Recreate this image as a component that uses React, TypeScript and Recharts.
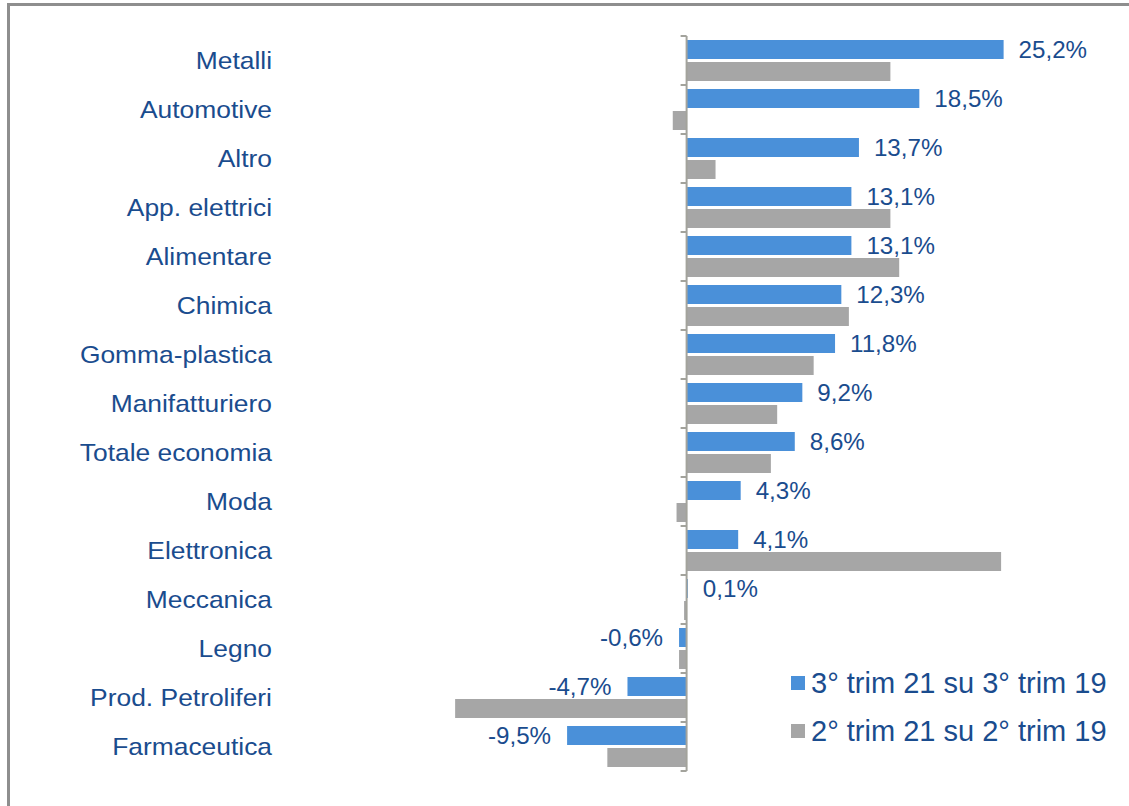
import { Bar, BarChart, LabelList, Legend, ReferenceLine, XAxis, YAxis } from 'recharts'

const categories = [
  'Metalli',
  'Automotive',
  'Altro',
  'App. elettrici',
  'Alimentare',
  'Chimica',
  'Gomma-plastica',
  'Manifatturiero',
  'Totale economia',
  'Moda',
  'Elettronica',
  'Meccanica',
  'Legno',
  'Prod. Petroliferi',
  'Farmaceutica'
]

const q3Values = [25.2, 18.5, 13.7, 13.1, 13.1, 12.3, 11.8, 9.2, 8.6, 4.3, 4.1, 0.1, -0.6, -4.7, -9.5]
const q2Values = [16.2, -1.1, 2.3, 16.2, 16.9, 12.9, 10.1, 7.2, 6.7, -0.8, 25.0, -0.2, -0.6, -18.4, -6.3]

const seriesNames = ['3° trim 21 su 3° trim 19', '2° trim 21 su 2° trim 19']

const data = categories.map((name, i) => ({
  name,
  q3: q3Values[i],
  q2: q2Values[i]
}))

const FONT = '"Liberation Sans", Arial, sans-serif'
const TEXT = '#1a4c8e'
const BLUE = '#4a90d9'
const GRAY = '#a6a6a6'
const AXIS = '#a3a39c'

const WIDTH = 1129
const HEIGHT = 806
const MARGIN = { top: 36, right: 65, bottom: 35, left: 0 }
const YAXIS_W = 435
const DOMAIN: [number, number] = [-20, 30]

// layout helpers for the excel style boundary ticks
const plotW = WIDTH - MARGIN.left - MARGIN.right - YAXIS_W
const zeroX = MARGIN.left + YAXIS_W + ((0 - DOMAIN[0]) / (DOMAIN[1] - DOMAIN[0])) * plotW
const band = (HEIGHT - MARGIN.top - MARGIN.bottom) / categories.length
const LABEL_X = 272

const fmt = (v: number) => v.toFixed(1).replace('.', ',') + '%'

const CategoryTick = (props: any) => {
  const { y, payload, index } = props
  return (
    <g>
      {/* the original text is a bit wider than Liberation Sans */}
      <text
        transform={`translate(${LABEL_X},${y}) scale(1.1,1)`}
        textAnchor="end"
        dominantBaseline="central"
        fill={TEXT}
        fontSize={24}
        fontFamily={FONT}
      >
        {payload.value}
      </text>
      <line x1={zeroX - 6} x2={zeroX} y1={y - band / 2} y2={y - band / 2} stroke={AXIS} strokeWidth={2} />
      {index === categories.length - 1 && (
        <line x1={zeroX - 6} x2={zeroX} y1={y + band / 2} y2={y + band / 2} stroke={AXIS} strokeWidth={2} />
      )}
    </g>
  )
}

const ValueLabel = (props: any) => {
  const { x, y, width, height, value } = props
  const left = Math.min(x, x + width)
  const right = Math.max(x, x + width)
  const neg = value < 0
  return (
    <text
      transform={`translate(${neg ? left - 16 : right + 15},${y + height / 2 + 1}) scale(1.05,1)`}
      textAnchor={neg ? 'end' : 'start'}
      dominantBaseline="central"
      fill={TEXT}
      fontSize={23}
      fontFamily={FONT}
    >
      {fmt(value)}
    </text>
  )
}

const LegendContent = (props: any) => {
  const payload = [...(props.payload || [])].sort(
    (a: any, b: any) => seriesNames.indexOf(a.value) - seriesNames.indexOf(b.value)
  )
  return (
    <div style={{ fontFamily: FONT, fontSize: 29, color: TEXT }}>
      {payload.map((entry: any) => (
        <div key={entry.value} style={{ display: 'flex', alignItems: 'center', height: 48, whiteSpace: 'nowrap' }}>
          <span style={{ display: 'inline-block', width: 14, height: 14, background: entry.color, marginRight: 6 }} />
          {entry.value}
        </div>
      ))}
    </div>
  )
}

export default function App() {
  return (
    <div style={{ position: 'fixed', left: 0, top: 0, width: WIDTH, height: HEIGHT, overflow: 'hidden', background: '#fff' }}>
      <div
        style={{
          position: 'absolute',
          left: 7,
          top: 3,
          width: 1300,
          height: 1000,
          border: '3px solid #8e8e8e'
        }}
      />
      <div style={{ position: 'absolute', left: 0, top: 0 }}>
        <BarChart
          width={WIDTH}
          height={HEIGHT}
          data={data}
          layout="vertical"
          margin={MARGIN}
          barCategoryGap={4}
          barGap={3}
        >
          <XAxis type="number" domain={DOMAIN} hide />
          <YAxis
            type="category"
            dataKey="name"
            width={YAXIS_W}
            axisLine={false}
            tickLine={false}
            tick={<CategoryTick />}
            interval={0}
          />
          <ReferenceLine x={0} stroke={AXIS} strokeWidth={2} />
          <Legend
            layout="vertical"
            align="center"
            verticalAlign="middle"
            content={<LegendContent />}
            wrapperStyle={{ left: 791, top: 659, width: 338 }}
          />
          <Bar dataKey="q3" name={seriesNames[0]} fill={BLUE} isAnimationActive={false}>
            <LabelList dataKey="q3" content={<ValueLabel />} />
          </Bar>
          <Bar dataKey="q2" name={seriesNames[1]} fill={GRAY} isAnimationActive={false} />
        </BarChart>
      </div>
    </div>
  )
}
